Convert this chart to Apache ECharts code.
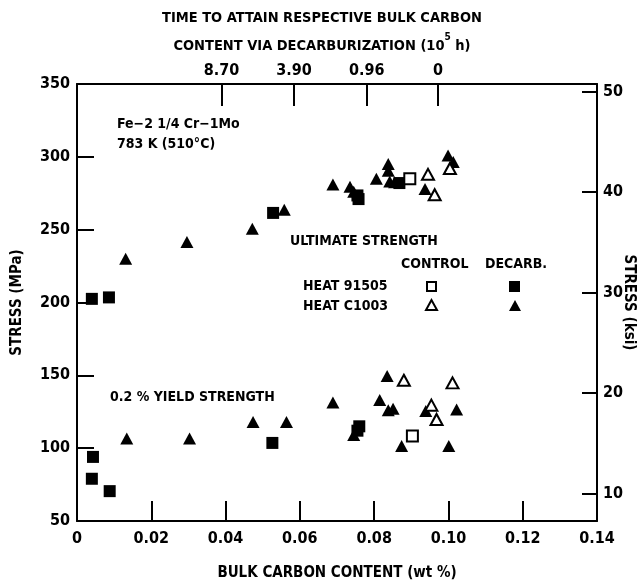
<!DOCTYPE html>
<html><head><meta charset="utf-8">
<script src="https://cdn.jsdelivr.net/npm/echarts@6/dist/echarts.min.js"></script>
<style>html,body{margin:0;padding:0;background:#fff}#c{width:641px;height:585px}</style>
</head><body><div id="c"></div>
<script>
// ---- data ----
const xTicks = [0, 0.02, 0.04, 0.06, 0.08, 0.10, 0.12, 0.14];
const yTicksMPa = [50, 100, 150, 200, 250, 300, 350];
const yTicksKsi = [10, 20, 30, 40, 50];
const topTickPos = [0.0389, 0.0584, 0.0780, 0.0972];
const topTickLabels = ['8.70', '3.90', '0.96', '0'];

// Ultimate strength [wt% C, MPa]
const ultDecarb91505 = [[0.0040,202.5],[0.0086,203.5],[0.0528,261.5],[0.0755,273.5],[0.0758,271],[0.0868,282]];
const ultDecarbC1003 = [[0.0131,230],[0.0296,241.5],[0.0472,250.7],[0.0558,263.7],[0.0689,281],[0.0735,279.5],[0.0745,276],[0.0806,285],[0.0838,295],[0.0838,290.5],[0.0842,283],[0.0855,282.5],[0.0937,278],[0.0999,301],[0.1013,296.5]];
const ultControl91505 = [[0.0896,285]];
const ultControlC1003 = [[0.0945,288],[0.0963,274],[0.1004,292]];
// 0.2% yield strength [wt% C, MPa]
const ysDecarb91505 = [[0.0043,94],[0.0040,79],[0.0088,70.5],[0.0526,103.6],[0.0755,112],[0.0760,115]];
const ysDecarbC1003 = [[0.0134,106.7],[0.0303,106.7],[0.0474,118],[0.0564,118],[0.0689,131.3],[0.0745,109],[0.0815,133],[0.0835,149.5],[0.0838,126],[0.0851,127],[0.0874,101.5],[0.0939,125.5],[0.1022,126.5],[0.1001,101.5]];
const ysControl91505 = [[0.0903,108.3]];
const ysControlC1003 = [[0.0880,146.6],[0.0954,129.5],[0.0968,119.7],[0.1011,144.8]];

const MPA_PER_KSI = 6.895;
const FONT = "'DejaVu Sans',sans-serif";
const W = 'bold condensed';
const txt = {color:'#000', fontFamily:FONT, fontWeight:W, fontSize:15};

const chart = echarts.init(document.getElementById('c'), null, {renderer:'canvas'});

const filledSq = {symbol:'rect', symbolSize:12, itemStyle:{color:'#000', opacity:1}};
const filledTri = {symbol:'triangle', symbolSize:[13,12], itemStyle:{color:'#000', opacity:1}};
const openSq = {symbol:'rect', symbolSize:11, itemStyle:{color:'#fff', borderColor:'#000', borderWidth:2, opacity:1}};
const openTri = {symbol:'triangle', symbolSize:[12,11], itemStyle:{color:'#fff', borderColor:'#000', borderWidth:2, opacity:1}};
function sc(name, data, st){ return Object.assign({type:'scatter', name, data, xAxisIndex:0, yAxisIndex:0, z:5}, st); }

const series = [
  sc('ultDecarbC1003', ultDecarbC1003, filledTri),
  sc('ultDecarb91505', ultDecarb91505, filledSq),
  sc('ultControl91505', ultControl91505, openSq),
  sc('ultControlC1003', ultControlC1003, openTri),
  sc('ysDecarbC1003', ysDecarbC1003, filledTri),
  sc('ysDecarb91505', ysDecarb91505, filledSq),
  sc('ysControl91505', ysControl91505, openSq),
  sc('ysControlC1003', ysControlC1003, openTri)
];

const axLine = {show:true, onZero:false, lineStyle:{color:'#000', width:2}};
function nearestLabel(v){
  let bi=0, bd=1e9;
  topTickPos.forEach((p,i)=>{const d=Math.abs(p-v); if(d<bd){bd=d;bi=i;}});
  return topTickLabels[bi];
}
const gf = (s)=> W+' '+s+'px '+FONT;

chart.setOption({
  animation:false,
  backgroundColor:'#fff',
  title:{
    text:'TIME TO ATTAIN RESPECTIVE BULK CARBON\nCONTENT VIA DECARBURIZATION ({s|10}{sup|5} h)',
    left:317, top:-1, textAlign:'center',
    textStyle:Object.assign({}, txt, {fontSize:14.5, lineHeight:28,
      rich:{s:Object.assign({}, txt, {fontSize:14.5, lineHeight:28}), sup:Object.assign({}, txt, {fontSize:10, verticalAlign:'top', lineHeight:28, padding:[0,0,8,0]})}})
  },
  grid:{left:77, right:44, top:84, bottom:64, outerBoundsMode:'none', containLabel:false},
  xAxis:[
    {type:'value', position:'bottom', min:0, max:0.14, interval:0.02,
     axisLine:axLine,
     axisTick:{show:true, inside:true, length:20, lineStyle:{color:'#000', width:2}},
     axisLabel:Object.assign({}, txt, {fontSize:16, margin:10, formatter:v=> v===0?'0':v.toFixed(2)}),
     splitLine:{show:false},
     name:'BULK CARBON CONTENT (wt %)', nameLocation:'middle', nameGap:45,
     nameTextStyle:Object.assign({}, txt, {fontSize:15})},
    {type:'value', position:'top', min:0, max:0.14,
     axisLine:axLine,
     axisTick:{show:true, inside:true, length:22, customValues:topTickPos, lineStyle:{color:'#000', width:2}},
     axisLabel:Object.assign({}, txt, {fontSize:16, margin:5, customValues:topTickPos, formatter:v=>nearestLabel(v)}),
     splitLine:{show:false}}
  ],
  yAxis:[
    {type:'value', position:'left', min:50, max:350, interval:50,
     axisLine:axLine,
     axisTick:{show:true, inside:true, length:17, lineStyle:{color:'#000', width:2}},
     axisLabel:Object.assign({}, txt, {fontSize:16, margin:7}),
     splitLine:{show:false},
     name:'STRESS (MPa)', nameLocation:'middle', nameGap:52, nameRotate:90,
     nameTextStyle:Object.assign({}, txt, {fontSize:15})},
    {type:'value', position:'right', min:50/MPA_PER_KSI, max:350/MPA_PER_KSI,
     axisLine:axLine,
     axisTick:{show:true, inside:true, length:15, customValues:yTicksKsi, lineStyle:{color:'#000', width:2}},
     axisLabel:Object.assign({}, txt, {fontSize:16, margin:6, customValues:yTicksKsi, formatter:v=>String(Math.round(v))}),
     splitLine:{show:false},
     name:'STRESS (ksi)', nameLocation:'middle', nameGap:24, nameRotate:-90, nameMoveOverlap:false,
     nameTextStyle:Object.assign({}, txt, {fontSize:15})}
  ],
  graphic:[
    {type:'text', left:117, top:114, style:{text:'Fe−2 1/4 Cr−1Mo\n783 K (510°C)', font:gf(14), lineHeight:20, fill:'#000'}},
    {type:'text', left:290, top:234, style:{text:'ULTIMATE STRENGTH', font:gf(14), fill:'#000'}},
    {type:'text', left:401, top:257, style:{text:'CONTROL', font:gf(14), fill:'#000'}},
    {type:'text', left:485, top:257, style:{text:'DECARB.', font:gf(14), fill:'#000'}},
    {type:'text', left:303, top:279, style:{text:'HEAT 91505', font:gf(14), fill:'#000'}},
    {type:'text', left:303, top:299, style:{text:'HEAT C1003', font:gf(14), fill:'#000'}},
    {type:'text', left:110, top:390, style:{text:'0.2 % YIELD STRENGTH', font:gf(14), fill:'#000'}},
    {type:'rect', shape:{x:427, y:282, width:9, height:9}, style:{fill:'#fff', stroke:'#000', lineWidth:2}},
    {type:'rect', shape:{x:509, y:281, width:11, height:11}, style:{fill:'#000'}},
    {type:'polygon', shape:{points:[[431.5,300],[426,310],[437,310]]}, style:{fill:'#fff', stroke:'#000', lineWidth:2}},
    {type:'polygon', shape:{points:[[515,300],[509,311],[521,311]]}, style:{fill:'#000'}}
  ],
  series:series
});
</script></body></html>
